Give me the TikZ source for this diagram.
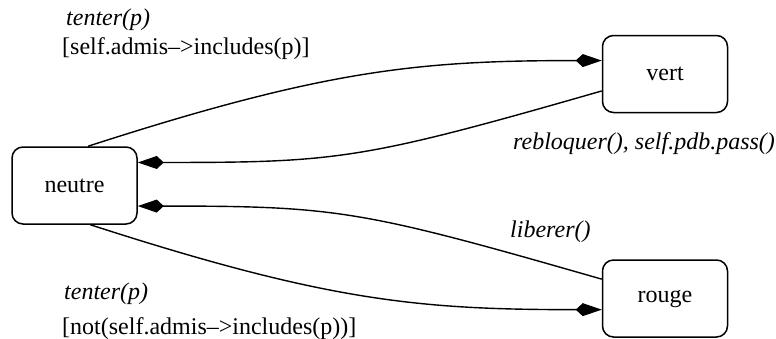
\documentclass[tikz,border=0pt]{standalone}
\usepackage{fontspec}
\setmainfont{LiberationSerif}[Extension=.ttf, UprightFont=*-Regular, ItalicFont=*-Italic, BoldFont=*-Bold, BoldItalicFont=*-BoldItalic]
\usetikzlibrary{arrows.meta}
\begin{document}
\begin{tikzpicture}[x=1pt,y=-1pt,
  state/.style={draw, line width=1.5pt, rounded corners=11pt, minimum width=125pt, minimum height=77pt, inner sep=0pt, font=\rmfamily\fontsize{24}{28}\selectfont},
  trans/.style={line width=1.4pt, -{Kite[length=26pt, width=13pt, inset=7pt]}},
  lbl/.style={anchor=base west, inner sep=0pt, font=\rmfamily\fontsize{24}{28}\selectfont}]
\useasboundingbox (0,0) rectangle (776,338);
\node[state] (neutre) at (74.5,185.5) {neutre};
\node[state] (vert) at (665,74) {vert};
\node[state] (rouge) at (665,298.5) {rouge};
\draw[trans] (neutre.71) .. controls +(238,-77) and +(-182,0) .. (vert.168);
\draw[trans] (vert.195) .. controls +(-240,69) and +(200,0) .. (neutre.20);
\draw[trans] (rouge.163) .. controls +(-240,-69) and +(200,0) .. (neutre.-18);
\draw[trans] (neutre.-68) .. controls +(238,77) and +(-182,0) .. (rouge.190);
\node[lbl] (l1) at (66,25) {\itshape tenter(p)};
\node[lbl] (l2) at (62,54) {[self.admis--{>}includes(p)]};
\node[lbl] (l3) at (513,149) {\itshape rebloquer(), self.pdb.pass()};
\node[lbl] (l4) at (510,237) {\itshape liberer()};
\node[lbl] (l5) at (64,299) {\itshape tenter(p)};
\node[lbl] (l6) at (62,334) {[not(self.admis--{>}includes(p))]};
\end{tikzpicture}
\end{document}
